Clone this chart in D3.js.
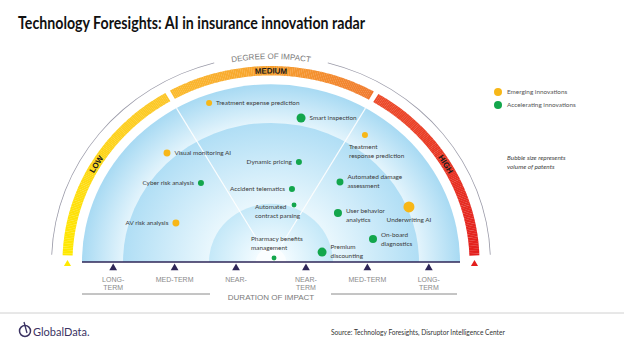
<!DOCTYPE html>
<html lang="en">
<head>
<meta charset="utf-8">
<script src="https://d3js.org/d3.v7.min.js"></script>
<style>
  body { margin: 0; background: #fff; }
  text { font-family: "Liberation Sans", Arial, sans-serif; }
  .title { font-family: Lato, sans-serif; font-weight: bold; font-size: 16.5px; fill: #111; }
  .lbl { font-family: Lato, sans-serif; font-size: 6.4px; fill: #3a3a3a; }
  .tick { font-size: 7px; fill: #8a8a8a; }
  .axis-title { font-size: 8px; fill: #7a7a7a; }
</style>
</head>
<body>
<script>
  // DATA
  const names = ["Treatment expense prediction", "Smart inspection", "Visual monitoring AI",
    "Dynamic pricing", "Treatment response prediction", "Cyber risk analysis",
    "Accident telematics", "Automated contract parsing", "AV risk analysis",
    "Pharmacy benefits management", "Automated damage assessment", "User behavior analytics",
    "Underwriting AI", "On-board diagnostics", "Premium discounting"];
  const labelLines = [["Treatment expense prediction"], ["Smart inspection"], ["Visual monitoring AI"],
    ["Dynamic pricing"], ["Treatment", "response prediction"], ["Cyber risk analysis"],
    ["Accident telematics"], ["Automated", "contract parsing"], ["AV risk analysis"],
    ["Pharmacy benefits", "management"], ["Automated damage", "assessment"], ["User behavior", "analytics"],
    ["Underwriting AI"], ["On-board", "diagnostics"], ["Premium", "discounting"]];
  const types = ["Emerging", "Accelerating", "Emerging", "Accelerating", "Emerging", "Accelerating",
    "Accelerating", "Accelerating", "Emerging", "Accelerating", "Accelerating", "Accelerating",
    "Emerging", "Accelerating", "Accelerating"];
  // distance from centre (0 = now, 100 = rim) and degree of impact (0 = low ... 180 = high)
  const duration = [95.3, 82.6, 82.4, 58.2, 87.1, 57.9, 42.6, 34.3, 54.9, 2.8, 58.0, 44.9, 79.3, 55.5, 27.6];
  const impact = [69.9, 101.1, 48.1, 104.7, 124.8, 50.2, 105.1, 110.8, 23.6, 125, 129, 142.1, 157, 166.5, 168.3];
  const patents = [90, 200, 120, 90, 90, 90, 90, 60, 120, 60, 120, 160, 300, 160, 200];

  const degreeLabels = ["LOW", "MEDIUM", "HIGH"];
  const degreeAt = [30, 90, 150];
  const tickValues = [-83.5, -51, -18.5, 18.5, 51, 83.5];
  const tickLabels = [["LONG-", "TERM"], ["MED-TERM"], ["NEAR-"], ["NEAR-", "TERM"], ["MED-TERM"], ["LONG-", "TERM"]];
  const legendNames = ["Emerging innovations", "Accelerating innovations"];
  const legendTypes = ["Emerging", "Accelerating"];
  const ringEdges = [8, 32.8, 78.3, 100];

  // layout of labels relative to their bubble
  const labelPos = {
    "Treatment expense prediction": { side: "r" },
    "Smart inspection": { side: "r" },
    "Visual monitoring AI": { side: "r" },
    "Dynamic pricing": { side: "l" },
    "Treatment response prediction": { side: "s", dx: -16, dy: 12 },
    "Cyber risk analysis": { side: "l" },
    "Accident telematics": { side: "l" },
    "Automated contract parsing": { side: "s", dx: -39, dy: 2 },
    "AV risk analysis": { side: "l" },
    "Pharmacy benefits management": { side: "s", dx: -23, dy: -19 },
    "Automated damage assessment": { side: "r", dy: -5 },
    "User behavior analytics": { side: "r", dy: -2 },
    "Underwriting AI": { side: "m", dx: 0, dy: 13 },
    "On-board diagnostics": { side: "r", dy: -4 },
    "Premium discounting": { side: "r", dy: -5 }
  };

  const W = 624, H = 351;
  const cx = 271, cy = 262, sy = 0.94;
  const svg = d3.select("body").append("svg").attr("width", W).attr("height", H);
  const defs = svg.append("defs");

  const rScale = d3.scaleLinear().domain([0, 100]).range([0, 189]);
  const aScale = d3.scaleLinear().domain([0, 180]).range([-Math.PI / 2, Math.PI / 2]);
  const sizeScale = d3.scaleSqrt().domain([0, 300]).range([0, 5.5]);
  const color = d3.scaleOrdinal().domain(legendTypes).range(["#f7b718", "#13a64c"]);

  function pos(r, a) {
    return [cx + r * Math.sin(a), cy - r * Math.cos(a) * sy];
  }

  // title
  svg.append("text").attr("class", "title").attr("x", 18).attr("y", 29)
    .attr("textLength", 347).attr("lengthAdjust", "spacingAndGlyphs")
    .text("Technology Foresights: AI in insurance innovation radar");

  // radar body (scaled vertically)
  const g = svg.append("g").attr("transform", `translate(${cx},${cy}) scale(1,${sy})`);

  const ringColors = [["#f2fbff", "#c4e8f8"], ["#e9f7fd", "#b0def5"], ["#e3f4fc", "#a8daf3"]];
  for (let i = 2; i >= 0; i--) {
    const id = "ring" + i;
    const inner = rScale(ringEdges[i]), outer = rScale(ringEdges[i + 1]);
    const grad = defs.append("radialGradient").attr("id", id)
      .attr("gradientUnits", "userSpaceOnUse").attr("cx", 0).attr("cy", 0).attr("r", outer);
    grad.append("stop").attr("offset", inner / outer).attr("stop-color", ringColors[i][0]);
    grad.append("stop").attr("offset", 1).attr("stop-color", ringColors[i][1]);
    g.append("path")
      .attr("d", d3.arc().innerRadius(0).outerRadius(outer).startAngle(-Math.PI / 2).endAngle(Math.PI / 2)())
      .attr("fill", `url(#${id})`);
  }
  // white centre
  g.append("path")
    .attr("d", d3.arc().innerRadius(0).outerRadius(rScale(ringEdges[0])).startAngle(-Math.PI / 2).endAngle(Math.PI / 2)())
    .attr("fill", "#fbfeff");

  // radial dividers
  [60, 120].forEach(v => {
    const a = aScale(v);
    g.append("line")
      .attr("x1", rScale(11) * Math.sin(a)).attr("y1", -rScale(11) * Math.cos(a))
      .attr("x2", rScale(100) * Math.sin(a)).attr("y2", -rScale(100) * Math.cos(a))
      .attr("stroke", "#fff").attr("stroke-width", 1.2).attr("opacity", 0.9);
  });

  // degree band
  const bandColor = d3.scaleLinear()
    .domain([2, 59, 61, 90, 119, 121, 178])
    .range(["#ffe900", "#fcc62a", "#fbbb2d", "#f7a02f", "#f07b2f", "#ec4b2a", "#e31f1d"]);
  const bandArc = d3.arc().innerRadius(198.5).outerRadius(208.5);
  for (let d = 2; d < 178; d += 0.5) {
    let a0 = d, a1 = d + 0.55;
    if ((d >= 59.4 && d < 60.6) || (d >= 119.4 && d < 120.6)) continue;
    g.append("path")
      .attr("d", bandArc.startAngle(aScale(a0)).endAngle(aScale(a1))())
      .attr("fill", bandColor(d + 0.25));
  }

  // outer grey arc with gap for the title
  const greyArc = d3.arc().innerRadius(219).outerRadius(219.8);
  [[2, 75], [105, 178]].forEach(([a, b]) => {
    g.append("path").attr("d", greyArc.startAngle(aScale(a)).endAngle(aScale(b))())
      .attr("fill", "#9a9aa8");
  });

  // text paths (unscaled ellipses)
  function ellipsePath(id, rx, ry) {
    defs.append("path").attr("id", id)
      .attr("d", `M${cx - rx},${cy} A${rx},${ry} 0 0 1 ${cx + rx},${cy}`);
  }
  ellipsePath("degPath", 216, 203);
  ellipsePath("bandPath", 203.5, 203.5 * sy);

  svg.append("text").attr("class", "axis-title")
    .append("textPath").attr("href", "#degPath").attr("startOffset", "50%")
    .attr("text-anchor", "middle").text("DEGREE OF IMPACT");

  svg.selectAll(".deg").data(degreeLabels).join("text")
    .attr("class", "deg").attr("dy", 2.8)
    .style("font-size", "8px").style("font-weight", "bold").attr("fill", "#1a1a1a")
    .append("textPath").attr("href", "#bandPath")
    .attr("startOffset", (d, i) => (degreeAt[i] / 180 * 100) + "%")
    .attr("text-anchor", "middle").text(d => d);

  // duration axis
  svg.append("line").attr("x1", cx - rScale(100)).attr("x2", cx + rScale(100))
    .attr("y1", cy).attr("y2", cy).attr("stroke", "#2e2657").attr("stroke-width", 1.5);

  const xTick = d3.scaleLinear().domain([-100, 100]).range([cx - rScale(100), cx + rScale(100)]);
  const tri = d3.symbol().type(d3.symbolTriangle).size(26);
  svg.selectAll(".tri").data(tickValues).join("path").attr("class", "tri")
    .attr("transform", d => `translate(${xTick(d)},${cy + 6})`)
    .attr("d", tri).attr("fill", "#2e2657");

  const tk = svg.selectAll(".tick").data(tickLabels).join("text").attr("class", "tick")
    .attr("text-anchor", "middle");
  tk.each(function (lines, j) {
    d3.select(this).selectAll("tspan").data(lines).join("tspan")
      .attr("x", xTick(tickValues[j])).attr("y", (d, i) => cy + 20 + i * 8).text(d => d);
  });

  // band end markers
  [[-90, "#ffe900"], [90, "#e31f1d"]].forEach(([a, c]) => {
    const x = cx + 203.5 * Math.sin(a * Math.PI / 180);
    svg.append("path").attr("transform", `translate(${x},${cy + 2})`)
      .attr("d", d3.symbol().type(d3.symbolTriangle).size(22)).attr("fill", c);
  });

  svg.append("line").attr("x1", 82).attr("x2", 210).attr("y1", 294).attr("y2", 294).attr("stroke", "#8a8a8a");
  svg.append("line").attr("x1", 331).attr("x2", 457).attr("y1", 294).attr("y2", 294).attr("stroke", "#8a8a8a");
  svg.append("text").attr("class", "axis-title").attr("x", cx).attr("y", 300)
    .attr("text-anchor", "middle").text("DURATION OF IMPACT");

  // bubbles
  const items = names.map((n, i) => {
    const p = pos(rScale(duration[i]), aScale(impact[i]));
    return { name: n, lines: labelLines[i], type: types[i], x: p[0], y: p[1], r: sizeScale(patents[i]) };
  });

  svg.selectAll(".dot").data(items).join("circle").attr("class", "dot")
    .attr("cx", d => d.x).attr("cy", d => d.y).attr("r", d => d.r)
    .attr("fill", d => color(d.type));

  const lbl = svg.selectAll(".lbl").data(items).join("text").attr("class", "lbl")
    .attr("text-anchor", d => ({ r: "start", l: "end", s: "start", m: "middle" })[labelPos[d.name].side]);
  lbl.each(function (d) {
    const lp = labelPos[d.name];
    let x = d.x, y = d.y + 2.2 + (lp.dy || 0);
    if (lp.side === "r") x = d.x + d.r + 4;
    else if (lp.side === "l") x = d.x - d.r - 4;
    else x = d.x + (lp.dx || 0);
    d3.select(this).selectAll("tspan").data(d.lines).join("tspan")
      .attr("x", x).attr("y", (t, i) => y + i * 8.5).text(t => t);
  });

  // legend
  const leg = svg.selectAll(".leg").data(legendNames).join("g").attr("class", "leg")
    .attr("transform", (d, i) => `translate(498,${92 + i * 13})`);
  leg.append("circle").attr("r", 4).attr("fill", (d, i) => color(legendTypes[i]));
  leg.append("text").attr("x", 9).attr("y", 2.3).attr("class", "lbl").style("fill", "#555").text(d => d);

  const note = svg.append("text").attr("class", "lbl").style("font-style", "italic").style("fill", "#444");
  note.selectAll("tspan").data(["Bubble size represents", "volume of patents"]).join("tspan")
    .attr("x", 507).attr("y", (d, i) => 160 + i * 8.5).text(d => d);

  // footer
  svg.append("line").attr("x1", 0).attr("x2", W).attr("y1", 313).attr("y2", 313)
    .attr("stroke", "#d0d0d0").attr("stroke-width", 1);
  const logo = svg.append("g").attr("transform", "translate(25,331)");
  logo.append("circle").attr("r", 5.5).attr("fill", "none").attr("stroke", "#3b3363").attr("stroke-width", 1.5);
  logo.append("line").attr("x1", -1).attr("x2", 2).attr("y1", -9).attr("y2", 2)
    .attr("stroke", "#3b3363").attr("stroke-width", 1.3);
  svg.append("text").attr("x", 33).attr("y", 335.5)
    .style("font-family", "Lato, sans-serif").style("font-size", "11px").attr("fill", "#3b3363")
    .text("GlobalData.");
  svg.append("text").attr("x", 331).attr("y", 335)
    .style("font-family", "Lato, sans-serif").style("font-size", "6.6px").attr("fill", "#333")
    .text("Source: Technology Foresights, Disruptor Intelligence Center");
</script>
</body>
</html>
